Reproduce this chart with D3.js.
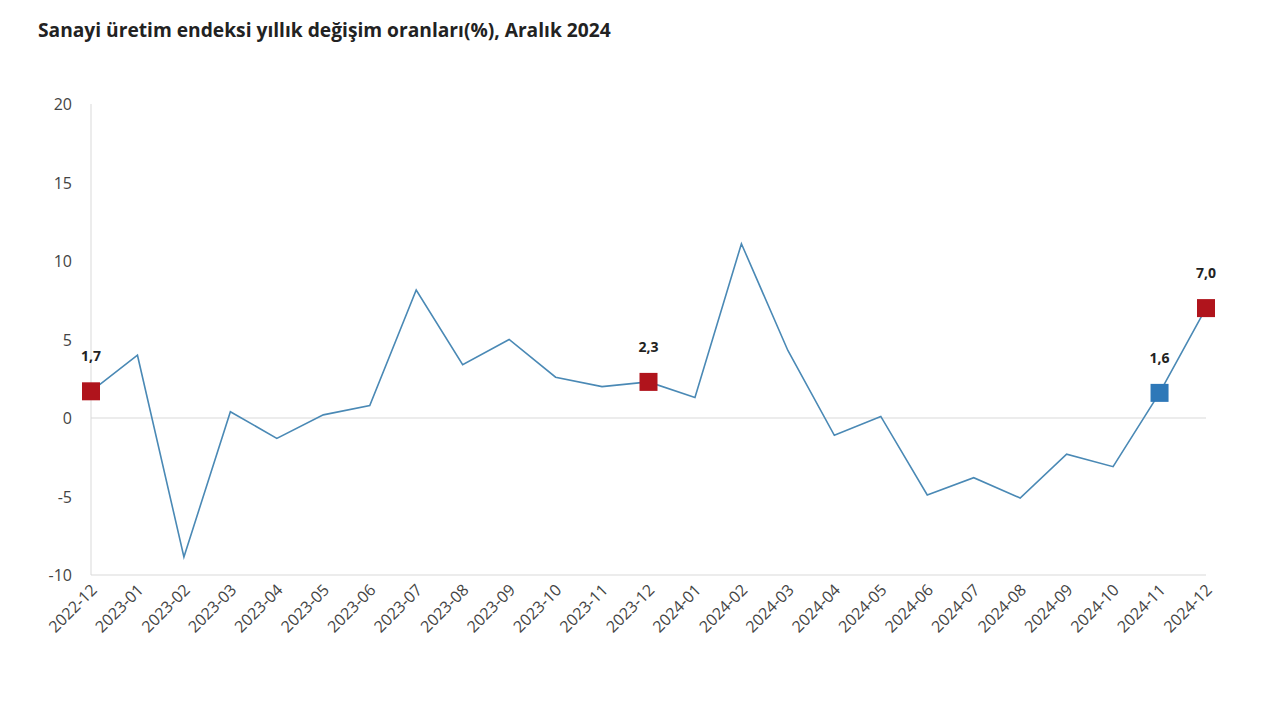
<!DOCTYPE html>
<html><head><meta charset="utf-8">
<script src="https://cdn.jsdelivr.net/npm/d3@7"></script>
<style>body{margin:0;background:#fff;font-family:"Open Sans",sans-serif}</style>
</head><body><svg id="c" width="1280" height="720"></svg>
<script>
const categories=["2022-12","2023-01","2023-02","2023-03","2023-04","2023-05","2023-06","2023-07","2023-08","2023-09","2023-10","2023-11","2023-12","2024-01","2024-02","2024-03","2024-04","2024-05","2024-06","2024-07","2024-08","2024-09","2024-10","2024-11","2024-12"];
const values=[1.7,4.0,-8.85,0.4,-1.3,0.2,0.8,8.15,3.4,5.0,2.6,2.0,2.3,1.3,11.1,4.3,-1.1,0.1,-4.9,-3.8,-5.1,-2.3,-3.1,1.6,7.0];
const highlights=[{i:0,label:"1,7",color:"#b0141c"},{i:12,label:"2,3",color:"#b0141c"},{i:23,label:"1,6",color:"#2e78b8"},{i:24,label:"7,0",color:"#b0141c"}];
const yTicks=[-10,-5,0,5,10,15,20];
const svg=d3.select("#c");
svg.append("text").attr("x",38).attr("y",37).attr("font-size",19.2).attr("font-weight","bold").attr("fill","#222").text("Sanayi üretim endeksi yıllık değişim oranları(%), Aralık 2024");
const x=d3.scalePoint().domain(categories).range([91,1206]);
const y=d3.scaleLinear().domain([-10,20]).range([575,104]);
svg.append("line").attr("x1",91).attr("x2",91).attr("y1",104).attr("y2",575).attr("stroke","#d9d9d9");
svg.append("line").attr("x1",91).attr("x2",1206).attr("y1",y(0)).attr("y2",y(0)).attr("stroke","#d9d9d9");
svg.append("line").attr("x1",91).attr("x2",1206).attr("y1",575).attr("y2",575).attr("stroke","#d9d9d9");
svg.selectAll(".yt").data(yTicks).enter().append("text").attr("x",72).attr("y",d=>y(d)+6).attr("text-anchor","end").attr("font-size",16).attr("fill","#444").text(d=>d);
svg.selectAll(".xt").data(categories).enter().append("text").attr("transform",d=>`translate(${x(d)+7},${591}) rotate(-45)`).attr("text-anchor","end").attr("font-size",16).attr("fill","#444").text(d=>d);
svg.append("path").datum(values).attr("fill","none").attr("stroke","#4a89b5").attr("stroke-width",1.6)
 .attr("d",d3.line().x((d,i)=>x(categories[i])).y(d=>y(d)));
highlights.forEach(h=>{const cx=x(categories[h.i]),cy=y(values[h.i]);
 svg.append("rect").attr("x",cx-9).attr("y",cy-9).attr("width",18).attr("height",18).attr("fill",h.color);
 svg.append("text").attr("x",cx).attr("y",cy-30).attr("text-anchor","middle").attr("font-size",14).attr("font-weight","bold").attr("fill","#222").text(h.label);});
</script></body></html>
